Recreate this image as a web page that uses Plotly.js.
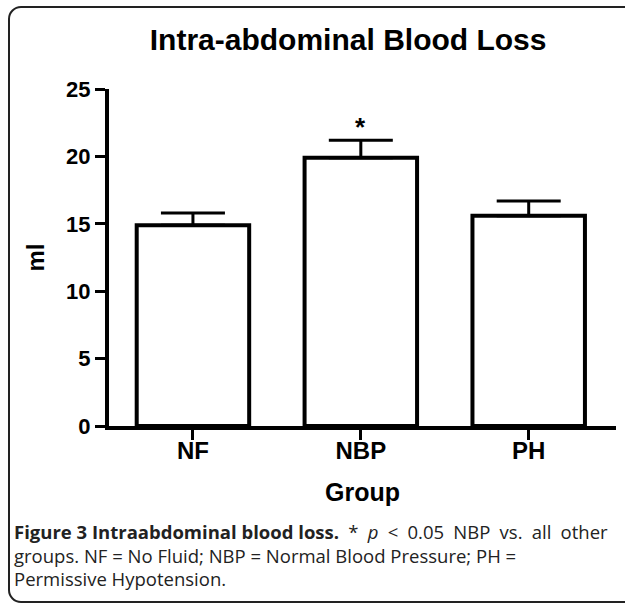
<!DOCTYPE html>
<html>
<head>
<meta charset="utf-8">
<script src="https://cdn.plot.ly/plotly-3.0.1.min.js"></script>
<style>
html,body{margin:0;padding:0;background:#fff;overflow:hidden;}
#wrap{position:relative;width:625px;height:606px;}
#chart{width:625px;height:606px;}
#frame{position:absolute;left:8px;top:6px;width:720px;height:597px;border:2px solid #222;border-radius:13px;pointer-events:none;box-sizing:border-box;}
</style>
</head>
<body>
<div id="wrap">
<div id="chart"></div>
<div id="frame"></div>
</div>
<script>
const groups = ["NF", "NBP", "PH"];
const meanMl = [14.9, 19.9, 15.6];
const semMl = [0.9, 1.3, 1.1];
const sigGroup = ["NBP"];
const sigY = [22.2];
const yTicks = [0, 5, 10, 15, 20, 25];

const FAM = "Liberation Sans, Arial, sans-serif";

const data = [{
  type: "bar",
  x: groups,
  y: meanMl,
  marker: {color: "#ffffff", line: {color: "#000", width: 4}},
  error_y: {type: "data", symmetric: false, array: semMl, arrayminus: semMl.map(() => 0),
            color: "#000", thickness: 3, width: 32},
  hoverinfo: "none"
}];

const capFont = {family: "Open Sans, Noto Sans, sans-serif", size: 18.5, color: "#222"};
const EN = "\u2002"; // wider space to emulate justified first line
const captionLines = [
  "<b>Figure 3 Intraabdominal blood loss.</b>" + EN + ["*", "<i>p</i>", "&lt;", "0.05", "NBP", "vs.", "all", "other"].join(EN),
  "groups. NF = No Fluid; NBP = Normal Blood Pressure; PH =",
  "Permissive Hypotension."
];
const capMid = [531, 555, 578];

const annotations = sigGroup.map((g, i) => ({
  x: g, y: sigY[i], xref: "x", yref: "y", text: "<b>*</b>", showarrow: false,
  yanchor: "middle",
  font: {family: FAM, size: 26, color: "#000"}
}));
captionLines.forEach((t, i) => annotations.push({
  xref: "paper", yref: "paper", x: (12 - 109) / 507, y: (426 - capMid[i]) / 337,
  xanchor: "left", yanchor: "middle", text: t, showarrow: false, font: capFont, align: "left"
}));

const layout = {
  width: 625, height: 606,
  margin: {l: 109, r: 9, t: 89, b: 180},
  paper_bgcolor: "#fff", plot_bgcolor: "#fff",
  showlegend: false,
  bargap: 0.33,
  title: {text: "Intra-abdominal Blood Loss", x: 0.557, xanchor: "center", y: 0.934, yanchor: "middle",
          font: {family: FAM, size: 30, color: "#000", weight: "bold"}},
  xaxis: {
    type: "category", range: [-0.5, 2.52], showgrid: false, zeroline: false,
    showline: true, linecolor: "#000", linewidth: 4,
    ticks: "outside", ticklen: 10, tickwidth: 3, tickcolor: "#000",
    ticklabelstandoff: -10,
    tickfont: {family: FAM, size: 24, color: "#000", weight: "bold"},
    title: {text: "Group", font: {family: FAM, size: 25, color: "#000", weight: "bold"}, standoff: 22}
  },
  yaxis: {
    range: [0, 25], tickvals: yTicks, showgrid: false, zeroline: false,
    showline: true, linecolor: "#000", linewidth: 4,
    ticks: "outside", ticklen: 10, tickwidth: 3, tickcolor: "#000",
    tickfont: {family: FAM, size: 22, color: "#000", weight: "bold"},
    title: {text: "ml", font: {family: FAM, size: 24, color: "#000", weight: "bold"}, standoff: 16}
  },
  annotations: annotations
};

Plotly.newPlot("chart", data, layout, {staticPlot: true, displayModeBar: false});
</script>
</body>
</html>
